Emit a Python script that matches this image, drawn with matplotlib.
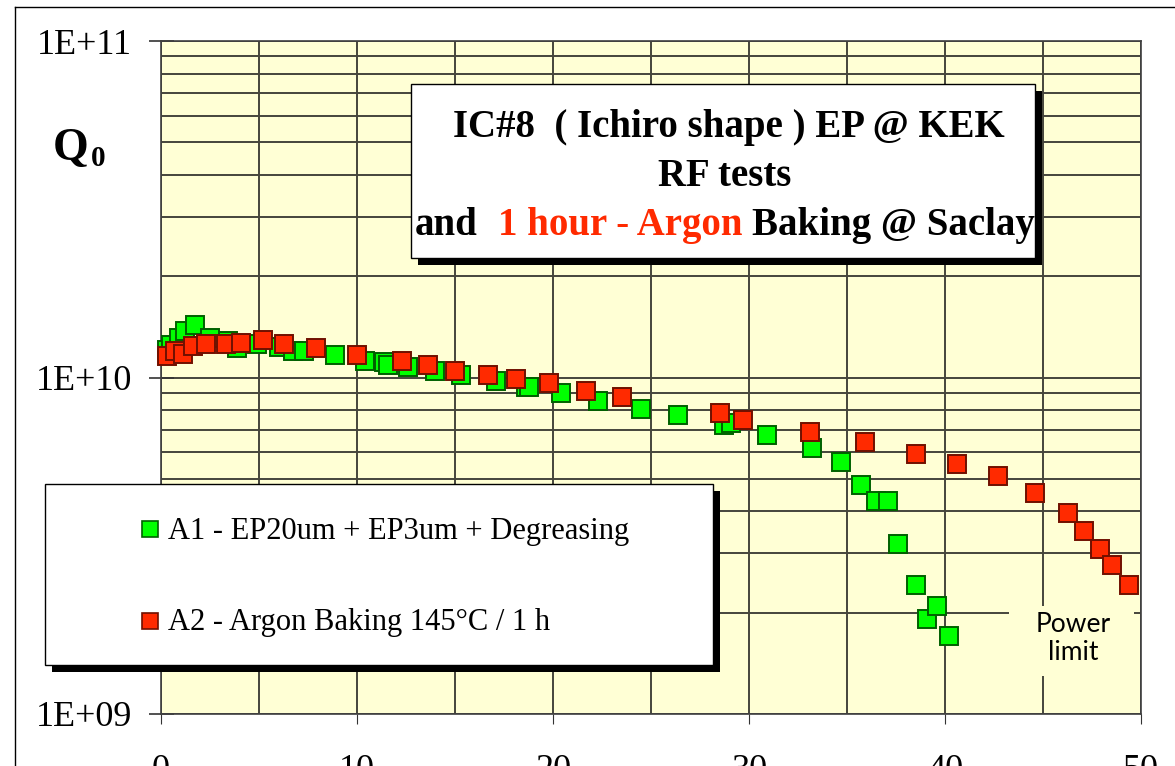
import matplotlib
matplotlib.use("Agg")
import matplotlib.pyplot as plt
from matplotlib.patches import Rectangle
from matplotlib.lines import Line2D
from matplotlib.ticker import LogLocator, NullFormatter

# A1 - EP20um + EP3um + Degreasing  (Eacc, Q0)
a1_eacc = [0.3, 0.5, 0.9, 1.2, 1.75, 2.5, 3.4, 3.9, 4.9, 6.0, 6.75, 7.3, 8.9,
           10.4, 11.4, 11.6, 12.6, 14.0, 15.3, 17.1, 18.6, 18.8, 20.4, 22.3,
           24.5, 26.4, 28.7, 29.1, 30.9, 33.2, 34.7, 35.7, 36.5, 37.1, 37.6,
           38.5, 39.1, 39.6, 40.2]
a1_q0 = [1.21e10, 1.25e10, 1.31e10, 1.37e10, 1.43e10, 1.31e10, 1.28e10, 1.22e10,
         1.26e10, 1.23e10, 1.20e10, 1.20e10, 1.17e10, 1.12e10, 1.11e10, 1.09e10,
         1.076e10, 1.047e10, 1.02e10, 9.77e9, 9.4e9, 9.4e9, 9.02e9, 8.51e9,
         8.07e9, 7.74e9, 7.21e9, 7.3e9, 6.73e9, 6.18e9, 5.6e9, 4.8e9, 4.29e9,
         4.29e9, 3.21e9, 2.41e9, 1.91e9, 2.1e9, 1.71e9]

# A2 - Argon Baking 145°C / 1 h
a2_eacc = [0.3, 0.7, 1.1, 1.65, 2.3, 3.3, 4.1, 5.2, 6.3, 7.9, 10.0, 12.3, 13.6,
           15.0, 16.7, 18.1, 19.8, 21.7, 23.5, 28.5, 29.7, 33.1, 35.9, 38.5,
           40.6, 42.7, 44.6, 46.3, 47.1, 47.9, 48.5, 49.4]
a2_q0 = [1.156e10, 1.20e10, 1.175e10, 1.24e10, 1.26e10, 1.26e10, 1.27e10, 1.29e10,
         1.26e10, 1.22e10, 1.17e10, 1.12e10, 1.09e10, 1.047e10, 1.02e10, 9.93e9,
         9.66e9, 9.12e9, 8.77e9, 7.85e9, 7.48e9, 6.88e9, 6.43e9, 5.93e9,
         5.53e9, 5.08e9, 4.53e9, 3.95e9, 3.49e9, 3.09e9, 2.77e9, 2.41e9]

labels = ["A1 - EP20um + EP3um + Degreasing", "A2 - Argon Baking 145°C / 1 h"]
xticks = [0, 10, 20, 30, 40, 50]
yticks = [1e9, 1e10, 1e11]
ytick_labels = ["1E+09", "1E+10", "1E+11"]

W, H = 1175, 766
SERIF = "Liberation Serif"
BG = "#FFFFD5"
GREEN, GREEN_EDGE = "#00FF00", "#006000"
RED, RED_EDGE = "#FF2A00", "#701000"


def fx(x):
    return x / W


def fy(y):
    return 1 - y / H


fig = plt.figure(figsize=(W / 100, H / 100), dpi=100)
fig.patch.set_facecolor("white")

ax = fig.add_axes([fx(161), fy(714), (1141 - 161) / W, (714 - 41) / H])
ax.set_facecolor(BG)
ax.set_yscale("log")
ax.set_xlim(0, 50)
ax.set_ylim(1e9, 1e11)
ax.set_axisbelow(True)

ax.set_xticks(xticks)
ax.set_xticks([5, 15, 25, 35, 45], minor=True)
ax.set_yticks(yticks, ytick_labels)
ax.yaxis.set_minor_locator(LogLocator(base=10, subs=range(2, 10)))
ax.yaxis.set_minor_formatter(NullFormatter())
ax.grid(True, which="both", color="#45453c", lw=1.4)
ax.tick_params(axis="y", which="major", direction="inout", length=18, width=1.2,
               pad=12, labelsize=26, color="#333333")
ax.tick_params(axis="x", which="major", direction="out", length=7, width=0.8,
               pad=22, labelsize=26, color="#333333")
ax.tick_params(which="minor", length=0)
for lab in ax.get_xticklabels() + ax.get_yticklabels():
    lab.set_fontfamily(SERIF)
for sp in ax.spines.values():
    sp.set_color("#404040")
    sp.set_linewidth(1.2)

# "Power limit" note, with a background patch hiding the grid
ax.add_patch(Rectangle((fx(1009), fy(676)), (1134 - 1009) / W, (676 - 606) / H,
                       transform=fig.transFigure, facecolor=BG, edgecolor="none",
                       zorder=1))
ax.text(fx(1073), fy(639), "Power\nlimit", transform=fig.transFigure, ha="center",
        va="center", fontsize=19, family="Lato", linespacing=1.15, zorder=1.2)

l1, = ax.plot(a1_eacc, a1_q0, "s", ms=12.5, mfc=GREEN, mec=GREEN_EDGE, mew=1.4,
              clip_on=False, zorder=3)
l2, = ax.plot(a2_eacc, a2_q0, "s", ms=12.5, mfc=RED, mec=RED_EDGE, mew=1.4,
              clip_on=False, zorder=4)

# outer frame
fig.add_artist(Line2D([fx(15), fx(15)], [fy(7), 0], color="black", lw=1))
fig.add_artist(Line2D([fx(15), 1], [fy(7), fy(7)], color="black", lw=1))

# Q0 label
fig.text(fx(53), fy(160), "Q", fontsize=33, family=SERIF, weight="bold", va="baseline")
fig.text(fx(91), fy(166), "0", fontsize=21, family=SERIF, weight="bold", va="baseline")


def shadow_box(x0, y0, x1, y1, off=7):
    fig.add_artist(Rectangle((fx(x0 + off), fy(y1 + off)), (x1 - x0) / W,
                             (y1 - y0) / H, transform=fig.transFigure,
                             facecolor="black", edgecolor="none", zorder=5))
    fig.add_artist(Rectangle((fx(x0), fy(y1)), (x1 - x0) / W, (y1 - y0) / H,
                             transform=fig.transFigure, facecolor="white",
                             edgecolor="black", lw=1, zorder=6))


# title box
shadow_box(411, 84, 1035, 258)
title_kw = dict(fontsize=28, family=SERIF, weight="bold", va="baseline", zorder=7)
fig.text(fx(729), fy(137), "IC#8  ( Ichiro shape ) EP @ KEK", ha="center", **title_kw)
fig.text(fx(725), fy(186), "RF tests", ha="center", **title_kw)

parts = [("and", "black"), ("1 hour - Argon", RED), ("Baking @ Saclay", "black")]
renderer = fig.canvas.get_renderer()
texts = [fig.text(0, fy(235), s, color=c, ha="left", **title_kw) for s, c in parts]
widths = [t.get_window_extent(renderer).width for t in texts]
probe = fig.text(0, 0, "x x", **title_kw)
probe2 = fig.text(0, 0, "xx", **title_kw)
space = probe.get_window_extent(renderer).width - probe2.get_window_extent(renderer).width
probe.remove()
probe2.remove()
gaps = [2 * space, space]
total = sum(widths) + sum(gaps)
x = 725 - total / 2
for i, t in enumerate(texts):
    t.set_x(fx(x))
    x += widths[i] + (gaps[i] if i < len(gaps) else 0)

# legend box
shadow_box(45, 484, 713, 665)
for line, lab, ym, yb in [(l1, labels[0], 529, 539), (l2, labels[1], 621, 630)]:
    fig.add_artist(Line2D([fx(150)], [fy(ym)], marker="s", ms=11.5,
                          mfc=line.get_markerfacecolor(), mec=line.get_markeredgecolor(),
                          mew=1.2, ls="none", zorder=7))
    fig.text(fx(168), fy(yb), lab, fontsize=22, family=SERIF, va="baseline", zorder=7)

fig.savefig("out.png", dpi=100)
